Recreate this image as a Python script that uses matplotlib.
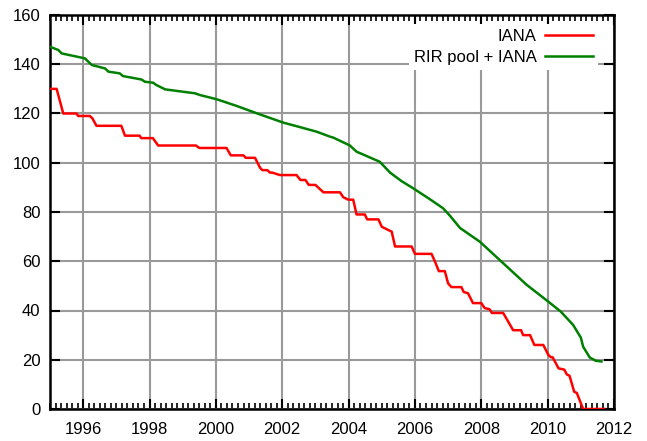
import matplotlib
matplotlib.use("Agg")
import matplotlib.pyplot as plt
from matplotlib.ticker import MultipleLocator

# IANA free /8 pool
iana_year = [1995.0, 1995.2, 1995.4, 1995.8, 1995.85, 1996.2, 1996.28, 1996.4,
             1997.15, 1997.26, 1997.7, 1997.75, 1998.1, 1998.26, 1999.4, 1999.5,
             2000.32, 2000.45, 2000.83, 2000.9, 2001.18, 2001.33, 2001.4, 2001.55,
             2001.63, 2001.7, 2001.93, 2002.43, 2002.55, 2002.7, 2002.8, 2003.0,
             2003.24, 2003.74, 2003.84, 2003.99, 2004.14, 2004.24, 2004.49, 2004.56,
             2004.9, 2005.0, 2005.15, 2005.3, 2005.4, 2005.9, 2006.0, 2006.5,
             2006.6, 2006.72, 2006.9, 2007.0, 2007.1, 2007.4, 2007.47, 2007.6,
             2007.75, 2008.0, 2008.1, 2008.25, 2008.32, 2008.66, 2008.96, 2009.2,
             2009.26, 2009.47, 2009.6, 2009.87, 2010.02, 2010.1, 2010.15, 2010.33,
             2010.5, 2010.58, 2010.66, 2010.8, 2010.88, 2011.07, 2011.7]
iana_count = [130, 130, 120, 120, 119, 119, 118, 115,
              115, 111, 111, 110, 110, 107, 107, 106,
              106, 103, 103, 102, 102, 98, 97, 97,
              96, 96, 95, 95, 93, 93, 91, 91,
              88, 88, 86, 85, 85, 79, 79, 77,
              77, 74, 73, 72, 66, 66, 63, 63,
              60, 56, 56, 51, 49.5, 49.5, 47.5, 47,
              43, 43, 41, 40.5, 39, 39, 32, 32,
              30, 30, 26, 26, 22, 21, 21, 16.5,
              16, 14, 13.5, 7, 6.5, 0, 0]

# RIR pools + IANA
pool_year = [1995.0, 1995.25, 1995.35, 1996.05, 1996.26, 1996.66, 1996.76, 1997.1,
             1997.2, 1997.76, 1997.86, 1998.11, 1998.2, 1998.47, 1999.37, 1999.52,
             2000.02, 2000.6, 2001.23, 2002.03, 2002.5, 2003.04, 2003.44, 2003.54,
             2004.04, 2004.24, 2004.94, 2005.25, 2005.6, 2005.95, 2006.45, 2006.85,
             2007.06, 2007.36, 2007.96, 2008.66, 2009.37, 2010.02, 2010.4, 2010.77,
             2011.0, 2011.07, 2011.27, 2011.45, 2011.62]
pool_count = [147.1, 145.8, 144.4, 142.4, 139.7, 138.3, 137.0, 136.3,
              135.2, 133.8, 132.9, 132.5, 131.6, 129.8, 128.2, 127.5,
              125.8, 123.2, 120.1, 116.3, 114.6, 112.6, 110.6, 110.2,
              107.0, 104.5, 100.4, 96.0, 92.5, 89.6, 85.2, 81.5,
              78.4, 73.5, 67.9, 59.2, 50.4, 43.6, 39.5, 34.1,
              29.0, 25.3, 20.9, 19.6, 19.3]

plt.rcParams["font.family"] = ["Liberation Sans", "DejaVu Sans"]
plt.rcParams["font.size"] = 12

fig = plt.figure(figsize=(6.47, 4.41), dpi=100)
ax = fig.add_axes([50 / 647, 32 / 441, 564 / 647, 394 / 441])

ax.plot(iana_year, iana_count, color="#ff0000", lw=1.8, label="IANA", zorder=3)
ax.plot(pool_year, pool_count, color="#008000", lw=1.8, label="RIR pool + IANA", zorder=3)

ax.set_xlim(1995, 2012)
ax.set_ylim(0, 160)
ax.xaxis.set_major_locator(MultipleLocator(2))
ax.xaxis.set_minor_locator(MultipleLocator(1 / 6))
ax.yaxis.set_major_locator(MultipleLocator(20))
ax.grid(True, which="major", color="#999999", lw=1.5)
ax.set_axisbelow(True)

ax.tick_params(which="both", direction="in", top=True, right=True, color="black")
ax.tick_params(which="major", length=7, width=1.5, pad=7)
ax.tick_params(axis="x", which="major", pad=9)
ax.tick_params(which="minor", length=4, width=1.2)
ax.tick_params(axis="y", which="minor", left=False, right=False)
for s in ax.spines.values():
    s.set_linewidth(1.8)

leg = ax.legend(loc="upper right", bbox_to_anchor=(0.972, 0.977), markerfirst=False,
                frameon=True, fancybox=False, edgecolor="none", facecolor="white",
                framealpha=1, borderaxespad=0, borderpad=0.3, handlelength=2.9,
                handletextpad=0.5, labelspacing=0.33)
leg.set_zorder(5)

fig.savefig("out.png", dpi=100)
